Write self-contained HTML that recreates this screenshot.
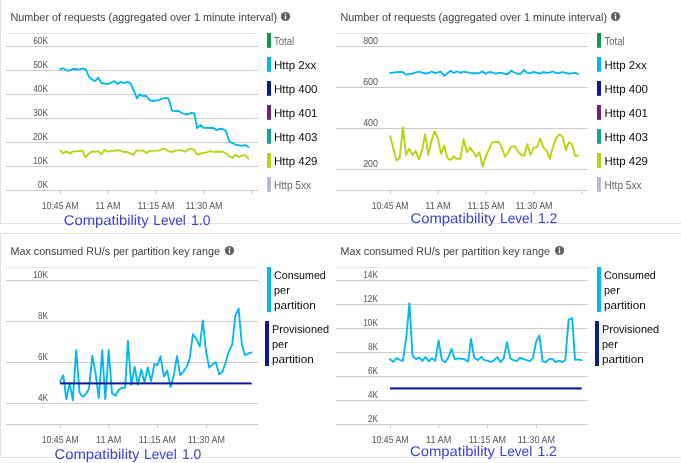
<!DOCTYPE html>
<html><head><meta charset="utf-8"><title>Charts</title>
<style>html,body{margin:0;padding:0;background:#fff;overflow:hidden}body{width:681px;height:463px;font-family:"Liberation Sans",sans-serif}</style></head>
<body>
<svg width="681" height="463" viewBox="0 0 681 463" style="display:block;will-change:transform;font-family:'Liberation Sans',sans-serif" shape-rendering="auto" text-rendering="geometricPrecision">
<rect width="681" height="463" fill="#ffffff"/>
<g fill="#e1e1e1">
<rect x="0" y="0" width="1" height="224"/>
<rect x="0" y="223" width="681" height="1"/>
<rect x="0" y="233" width="681" height="1"/>
<rect x="0" y="233" width="1" height="225"/>
<rect x="0" y="457" width="681" height="1"/>
</g>
<rect x="6" y="33" width="252" height="1" fill="#e6e6e6"/>
<rect x="6" y="46" width="252" height="1" fill="#cbcbcb"/>
<rect x="6" y="70" width="252" height="1" fill="#cbcbcb"/>
<rect x="6" y="94" width="252" height="1" fill="#cbcbcb"/>
<rect x="6" y="118" width="252" height="1" fill="#cbcbcb"/>
<rect x="6" y="142" width="252" height="1" fill="#cbcbcb"/>
<rect x="6" y="166" width="252" height="1" fill="#cbcbcb"/>
<rect x="6" y="190" width="252" height="1" fill="#cbcbcb"/>
<rect x="60.0" y="190" width="1" height="4" fill="#cbcbcb"/>
<rect x="107.5" y="190" width="1" height="4" fill="#cbcbcb"/>
<rect x="155.3" y="190" width="1" height="4" fill="#cbcbcb"/>
<rect x="203.2" y="190" width="1" height="4" fill="#cbcbcb"/>
<rect x="251.1" y="190" width="1" height="4" fill="#cbcbcb"/>
<text x="10.5" y="21" font-size="11.4" fill="#3d3d3d" textLength="266.5" lengthAdjust="spacingAndGlyphs">Number of requests (aggregated over 1 minute interval)</text>
<circle cx="285.5" cy="16.5" r="4.6" fill="#5c5c5c"/><rect x="284.8" y="15.6" width="1.4" height="3.8" fill="#fff"/><rect x="284.75" y="13.4" width="1.5" height="1.5" fill="#fff"/>
<text x="48" y="44" font-size="10.1" fill="#555555" text-anchor="end" textLength="14.8" lengthAdjust="spacingAndGlyphs">60K</text>
<text x="48" y="68" font-size="10.1" fill="#555555" text-anchor="end" textLength="14.8" lengthAdjust="spacingAndGlyphs">50K</text>
<text x="48" y="92" font-size="10.1" fill="#555555" text-anchor="end" textLength="14.8" lengthAdjust="spacingAndGlyphs">40K</text>
<text x="48" y="116" font-size="10.1" fill="#555555" text-anchor="end" textLength="14.8" lengthAdjust="spacingAndGlyphs">30K</text>
<text x="48" y="140" font-size="10.1" fill="#555555" text-anchor="end" textLength="14.8" lengthAdjust="spacingAndGlyphs">20K</text>
<text x="48" y="164" font-size="10.1" fill="#555555" text-anchor="end" textLength="14.8" lengthAdjust="spacingAndGlyphs">10K</text>
<text x="48" y="188" font-size="10.1" fill="#555555" text-anchor="end" textLength="10" lengthAdjust="spacingAndGlyphs">0K</text>
<text x="60.1" y="209" font-size="10.1" fill="#555555" text-anchor="middle" textLength="36.6" lengthAdjust="spacingAndGlyphs">10:45 AM</text>
<text x="107.9" y="209" font-size="10.1" fill="#555555" text-anchor="middle" textLength="25.2" lengthAdjust="spacingAndGlyphs">11 AM</text>
<text x="156" y="209" font-size="10.1" fill="#555555" text-anchor="middle" textLength="37.2" lengthAdjust="spacingAndGlyphs">11:15 AM</text>
<text x="204" y="209" font-size="10.1" fill="#555555" text-anchor="middle" textLength="37.2" lengthAdjust="spacingAndGlyphs">11:30 AM</text>
<rect x="336" y="33" width="252" height="1" fill="#e6e6e6"/>
<rect x="336" y="46" width="252" height="1" fill="#cbcbcb"/>
<rect x="336" y="87" width="252" height="1" fill="#cbcbcb"/>
<rect x="336" y="128" width="252" height="1" fill="#cbcbcb"/>
<rect x="336" y="169" width="252" height="1" fill="#cbcbcb"/>
<rect x="336" y="190" width="252" height="1" fill="#cbcbcb"/>
<rect x="390.0" y="190" width="1" height="4" fill="#cbcbcb"/>
<rect x="437.5" y="190" width="1" height="4" fill="#cbcbcb"/>
<rect x="485.3" y="190" width="1" height="4" fill="#cbcbcb"/>
<rect x="533.2" y="190" width="1" height="4" fill="#cbcbcb"/>
<rect x="581.1" y="190" width="1" height="4" fill="#cbcbcb"/>
<text x="340.5" y="21" font-size="11.4" fill="#3d3d3d" textLength="266.5" lengthAdjust="spacingAndGlyphs">Number of requests (aggregated over 1 minute interval)</text>
<circle cx="615.5" cy="16.5" r="4.6" fill="#5c5c5c"/><rect x="614.8" y="15.6" width="1.4" height="3.8" fill="#fff"/><rect x="614.75" y="13.4" width="1.5" height="1.5" fill="#fff"/>
<text x="378" y="44" font-size="10.1" fill="#555555" text-anchor="end" textLength="14.8" lengthAdjust="spacingAndGlyphs">800</text>
<text x="378" y="85" font-size="10.1" fill="#555555" text-anchor="end" textLength="14.8" lengthAdjust="spacingAndGlyphs">600</text>
<text x="378" y="126" font-size="10.1" fill="#555555" text-anchor="end" textLength="14.8" lengthAdjust="spacingAndGlyphs">400</text>
<text x="378" y="167" font-size="10.1" fill="#555555" text-anchor="end" textLength="14.8" lengthAdjust="spacingAndGlyphs">200</text>
<text x="390.1" y="209" font-size="10.1" fill="#555555" text-anchor="middle" textLength="36.6" lengthAdjust="spacingAndGlyphs">10:45 AM</text>
<text x="437.9" y="209" font-size="10.1" fill="#555555" text-anchor="middle" textLength="25.2" lengthAdjust="spacingAndGlyphs">11 AM</text>
<text x="486" y="209" font-size="10.1" fill="#555555" text-anchor="middle" textLength="37.2" lengthAdjust="spacingAndGlyphs">11:15 AM</text>
<text x="534" y="209" font-size="10.1" fill="#555555" text-anchor="middle" textLength="37.2" lengthAdjust="spacingAndGlyphs">11:30 AM</text>
<rect x="6" y="267" width="252" height="1" fill="#e6e6e6"/>
<rect x="6" y="280" width="252" height="1" fill="#cbcbcb"/>
<rect x="6" y="321" width="252" height="1" fill="#cbcbcb"/>
<rect x="6" y="362" width="252" height="1" fill="#cbcbcb"/>
<rect x="6" y="403" width="252" height="1" fill="#cbcbcb"/>
<rect x="6" y="424" width="252" height="1" fill="#cbcbcb"/>
<rect x="60.0" y="424" width="1" height="4" fill="#cbcbcb"/>
<rect x="108.2" y="424" width="1" height="4" fill="#cbcbcb"/>
<rect x="156.9" y="424" width="1" height="4" fill="#cbcbcb"/>
<rect x="205.8" y="424" width="1" height="4" fill="#cbcbcb"/>
<text x="10.5" y="255" font-size="11.4" fill="#3d3d3d" textLength="209.5" lengthAdjust="spacingAndGlyphs">Max consumed RU/s per partition key range</text>
<circle cx="229.5" cy="250.5" r="4.6" fill="#5c5c5c"/><rect x="228.8" y="249.6" width="1.4" height="3.8" fill="#fff"/><rect x="228.75" y="247.4" width="1.5" height="1.5" fill="#fff"/>
<text x="48" y="278" font-size="10.1" fill="#555555" text-anchor="end" textLength="14.8" lengthAdjust="spacingAndGlyphs">10K</text>
<text x="48" y="319" font-size="10.1" fill="#555555" text-anchor="end" textLength="10" lengthAdjust="spacingAndGlyphs">8K</text>
<text x="48" y="360" font-size="10.1" fill="#555555" text-anchor="end" textLength="10" lengthAdjust="spacingAndGlyphs">6K</text>
<text x="48" y="401" font-size="10.1" fill="#555555" text-anchor="end" textLength="10" lengthAdjust="spacingAndGlyphs">4K</text>
<text x="60.1" y="443" font-size="10.1" fill="#555555" text-anchor="middle" textLength="36.6" lengthAdjust="spacingAndGlyphs">10:45 AM</text>
<text x="108.7" y="443" font-size="10.1" fill="#555555" text-anchor="middle" textLength="25.2" lengthAdjust="spacingAndGlyphs">11 AM</text>
<text x="157.4" y="443" font-size="10.1" fill="#555555" text-anchor="middle" textLength="37.2" lengthAdjust="spacingAndGlyphs">11:15 AM</text>
<text x="206.4" y="443" font-size="10.1" fill="#555555" text-anchor="middle" textLength="37.2" lengthAdjust="spacingAndGlyphs">11:30 AM</text>
<rect x="336" y="267" width="252" height="1" fill="#e6e6e6"/>
<rect x="336" y="280" width="252" height="1" fill="#cbcbcb"/>
<rect x="336" y="304" width="252" height="1" fill="#cbcbcb"/>
<rect x="336" y="328" width="252" height="1" fill="#cbcbcb"/>
<rect x="336" y="352" width="252" height="1" fill="#cbcbcb"/>
<rect x="336" y="376" width="252" height="1" fill="#cbcbcb"/>
<rect x="336" y="400" width="252" height="1" fill="#cbcbcb"/>
<rect x="336" y="424" width="252" height="1" fill="#cbcbcb"/>
<rect x="390.0" y="424" width="1" height="4" fill="#cbcbcb"/>
<rect x="438.2" y="424" width="1" height="4" fill="#cbcbcb"/>
<rect x="486.9" y="424" width="1" height="4" fill="#cbcbcb"/>
<rect x="535.8" y="424" width="1" height="4" fill="#cbcbcb"/>
<text x="340.5" y="255" font-size="11.4" fill="#3d3d3d" textLength="209.5" lengthAdjust="spacingAndGlyphs">Max consumed RU/s per partition key range</text>
<circle cx="559.5" cy="250.5" r="4.6" fill="#5c5c5c"/><rect x="558.8" y="249.6" width="1.4" height="3.8" fill="#fff"/><rect x="558.75" y="247.4" width="1.5" height="1.5" fill="#fff"/>
<text x="378" y="278" font-size="10.1" fill="#555555" text-anchor="end" textLength="14.8" lengthAdjust="spacingAndGlyphs">14K</text>
<text x="378" y="302" font-size="10.1" fill="#555555" text-anchor="end" textLength="14.8" lengthAdjust="spacingAndGlyphs">12K</text>
<text x="378" y="326" font-size="10.1" fill="#555555" text-anchor="end" textLength="14.8" lengthAdjust="spacingAndGlyphs">10K</text>
<text x="378" y="350" font-size="10.1" fill="#555555" text-anchor="end" textLength="10" lengthAdjust="spacingAndGlyphs">8K</text>
<text x="378" y="374" font-size="10.1" fill="#555555" text-anchor="end" textLength="10" lengthAdjust="spacingAndGlyphs">6K</text>
<text x="378" y="398" font-size="10.1" fill="#555555" text-anchor="end" textLength="10" lengthAdjust="spacingAndGlyphs">4K</text>
<text x="378" y="422" font-size="10.1" fill="#555555" text-anchor="end" textLength="10" lengthAdjust="spacingAndGlyphs">2K</text>
<text x="390.1" y="443" font-size="10.1" fill="#555555" text-anchor="middle" textLength="36.6" lengthAdjust="spacingAndGlyphs">10:45 AM</text>
<text x="438.7" y="443" font-size="10.1" fill="#555555" text-anchor="middle" textLength="25.2" lengthAdjust="spacingAndGlyphs">11 AM</text>
<text x="487.4" y="443" font-size="10.1" fill="#555555" text-anchor="middle" textLength="37.2" lengthAdjust="spacingAndGlyphs">11:15 AM</text>
<text x="536.4" y="443" font-size="10.1" fill="#555555" text-anchor="middle" textLength="37.2" lengthAdjust="spacingAndGlyphs">11:30 AM</text>
<polyline points="60.1,150.4 63.2,153.3 66.3,151.4 69.9,153.5 73.0,151.4 76.1,151.4 79.2,150.9 82.4,150.6 85.5,157.1 88.6,154.0 91.7,151.4 95.1,151.8 98.2,151.2 101.5,154.2 104.5,149.9 107.9,151.8 111.0,150.9 114.1,150.9 117.4,150.1 120.8,150.7 123.8,152.0 127.2,152.0 130.3,153.3 133.4,155.0 136.4,150.7 143.1,150.6 146.4,153.0 149.8,150.9 159.1,150.6 162.7,148.9 165.2,148.9 168.8,151.4 171.9,152.0 175.0,150.6 181.7,150.2 184.5,151.8 190.0,148.7 193.9,149.7 197.4,154.7 203.0,152.8 206.9,152.4 210.1,151.2 213.3,151.8 216.6,151.5 223.1,151.8 232.4,158.0 235.4,154.7 238.6,157.0 241.9,155.6 245.1,155.1 248.4,158.6" fill="none" stroke="#b4d40c" stroke-width="1.85" stroke-linejoin="round" stroke-linecap="round"/>
<polyline points="60.0,69.1 63.0,68.3 67.0,70.7 69.4,70.6 72.7,69.0 76.0,68.8 79.2,69.6 82.4,68.5 85.6,69.1 88.9,76.7 92.1,79.5 95.0,81.1 98.3,77.7 101.5,83.0 107.5,84.2 111.6,82.4 114.5,81.1 117.7,84.0 120.7,81.9 123.7,83.0 127.5,81.9 130.5,83.4 133.8,90.5 136.9,98.3 139.6,94.4 143.2,96.2 146.4,96.0 149.7,100.2 152.4,101.0 158.9,100.2 162.2,98.6 165.7,97.8 168.6,98.6 171.9,110.6 175.1,111.2 178.4,110.9 181.6,112.8 184.8,114.0 188.1,114.3 191.3,112.8 194.3,113.4 197.2,128.2 200.5,125.0 203.7,127.8 213.3,128.0 216.6,130.1 219.8,128.8 223.1,129.2 226.0,131.0 229.3,141.5 235.4,144.6 241.9,145.9 245.1,145.0 248.4,147.0" fill="none" stroke="#00b7f1" stroke-width="1.85" stroke-linejoin="round" stroke-linecap="round"/>
<polyline points="390.1,136.2 393.1,147.6 396.3,160.4 399.7,157.9 402.9,127.3 406.0,155.2 409.2,148.6 412.5,155.2 415.5,150.8 418.8,159.4 422.0,150.8 425.1,134.2 428.3,154.9 431.5,140.6 434.6,131.5 437.9,138.4 441.1,153.8 444.2,145.7 447.4,158.2 450.6,159.9 453.7,156.4 457.0,158.9 460.3,158.9 463.6,139.5 466.8,152.3 469.9,147.6 473.1,151.6 476.3,156.7 479.4,152.3 482.6,166.3 485.9,156.0 489.1,149.4 492.2,142.3 495.4,142.0 498.6,141.7 501.7,147.2 505.0,156.7 507.9,153.0 511.1,146.7 514.5,146.1 517.7,150.8 520.8,154.5 524.1,156.0 527.3,144.2 530.4,154.9 533.9,147.6 537.0,147.2 540.2,138.4 543.4,147.6 546.5,150.1 549.8,158.9 553.0,146.4 556.1,138.4 559.3,134.2 562.7,136.9 565.9,150.1 568.8,142.3 572.1,144.2 575.2,156.0 577.9,155.5" fill="none" stroke="#b4d40c" stroke-width="1.85" stroke-linejoin="round" stroke-linecap="round"/>
<polyline points="390.1,73.2 396.7,72.2 402.6,72.0 406.0,74.7 412.2,73.7 418.8,71.7 425.4,73.5 428.3,73.2 431.5,71.5 434.9,73.2 440.8,71.7 444.2,75.7 450.6,70.7 453.7,72.9 457.0,71.5 460.6,72.8 463.6,71.7 471.6,73.2 479.0,73.2 482.4,71.4 485.9,73.7 489.5,72.0 492.5,72.5 495.7,73.7 499.1,72.8 502.0,72.9 505.0,74.0 507.9,74.0 511.1,70.6 514.5,72.5 517.4,73.7 520.7,73.7 524.1,70.0 527.0,72.9 529.9,73.2 533.6,72.0 540.2,73.7 543.1,72.0 546.5,72.9 549.8,72.5 552.7,71.5 556.4,73.2 559.3,72.9 562.5,72.2 568.8,73.7 575.4,72.8 577.9,74.0" fill="none" stroke="#00b7f1" stroke-width="1.85" stroke-linejoin="round" stroke-linecap="round"/>
<polyline points="60.0,381.9 63.3,375.1 66.3,399.3 69.7,383.1 72.8,400.3 76.2,350.1 79.5,392.5 82.7,396.7 86.0,394.0 89.0,388.7 92.3,355.9 95.5,372.8 98.8,398.2 102.2,350.1 105.3,399.3 108.7,350.1 112.0,393.2 115.5,395.8 118.5,390.2 121.5,387.9 125.2,387.8 127.9,341.0 131.3,384.9 134.7,366.8 137.8,384.9 141.2,369.5 144.5,382.6 147.7,367.5 151.0,381.1 154.5,363.7 157.3,365.2 160.5,356.2 163.8,376.6 167.2,370.5 170.6,387.2 173.7,375.8 177.0,356.2 180.2,375.1 183.5,371.3 186.8,366.8 189.7,358.5 192.9,334.3 196.5,339.0 199.8,346.6 202.8,320.4 206.0,351.0 209.2,367.6 212.7,364.5 215.7,362.1 219.2,374.2 222.5,371.7 225.6,362.5 228.6,352.3 232.3,344.1 235.3,315.8 238.6,308.6 241.9,344.8 245.0,355.3 248.1,353.7 251.6,352.3" fill="none" stroke="#00b7f1" stroke-width="1.85" stroke-linejoin="round" stroke-linecap="round"/>
<rect x="60" y="382.4" width="191.7" height="2" fill="#0a1a96"/>
<polyline points="390.0,359.1 393.2,362.0 396.4,358.1 399.7,359.8 402.9,360.9 406.2,338.2 409.4,303.2 412.6,356.1 415.9,359.1 419.1,357.6 422.4,360.9 425.4,357.0 428.8,361.3 432.1,358.3 435.3,360.9 438.6,340.4 441.8,359.8 445.0,362.4 448.3,357.6 451.5,349.0 454.8,359.1 458.4,358.3 464.5,359.4 468.2,361.5 471.0,338.8 474.2,357.6 477.9,360.2 481.3,356.8 484.3,360.2 487.6,360.7 490.8,362.0 494.0,360.4 497.3,357.2 500.5,362.0 503.8,358.3 507.0,342.1 510.2,358.1 513.5,360.2 516.7,361.1 520.0,357.6 523.2,359.1 526.4,360.2 529.7,361.1 532.9,358.1 536.2,341.4 539.4,335.4 542.6,361.3 545.9,362.2 549.1,358.9 552.4,358.9 555.6,362.2 558.8,360.7 562.1,362.0 565.3,360.2 568.6,319.8 572.2,318.1 575.0,359.8 578.3,359.4 581.5,360.2" fill="none" stroke="#00b7f1" stroke-width="1.85" stroke-linejoin="round" stroke-linecap="round"/>
<rect x="390" y="387.4" width="191.7" height="2.1" fill="#0a1a96"/>
<rect x="267" y="33" width="4" height="14.8" fill="#119a49"/>
<text x="274" y="44.5" font-size="11.5" fill="#6a6a6a" textLength="20" lengthAdjust="spacingAndGlyphs">Total</text>
<rect x="267" y="57" width="4" height="14.8" fill="#00b7f1"/>
<text x="274" y="68.5" font-size="11.5" fill="#0a0a0a">Http 2xx</text>
<rect x="267" y="81" width="4" height="14.8" fill="#0a1a8c"/>
<text x="274" y="92.5" font-size="11.5" fill="#0a0a0a">Http 400</text>
<rect x="267" y="105" width="4" height="14.8" fill="#6b2277"/>
<text x="274" y="116.5" font-size="11.5" fill="#0a0a0a">Http 401</text>
<rect x="267" y="129" width="4" height="14.8" fill="#16a594"/>
<text x="274" y="140.5" font-size="11.5" fill="#0a0a0a">Http 403</text>
<rect x="267" y="153" width="4" height="14.8" fill="#b4d40c"/>
<text x="274" y="164.5" font-size="11.5" fill="#0a0a0a">Http 429</text>
<rect x="267" y="177" width="4" height="14.8" fill="#b4bcc8"/>
<text x="274" y="188.5" font-size="11.5" fill="#6a6a6a" textLength="37" lengthAdjust="spacingAndGlyphs">Http 5xx</text>
<rect x="597" y="33" width="4" height="14.8" fill="#119a49"/>
<text x="604.5" y="44.5" font-size="11.5" fill="#6a6a6a" textLength="20" lengthAdjust="spacingAndGlyphs">Total</text>
<rect x="597" y="57" width="4" height="14.8" fill="#00b7f1"/>
<text x="604.5" y="68.5" font-size="11.5" fill="#0a0a0a">Http 2xx</text>
<rect x="597" y="81" width="4" height="14.8" fill="#0a1a8c"/>
<text x="604.5" y="92.5" font-size="11.5" fill="#0a0a0a">Http 400</text>
<rect x="597" y="105" width="4" height="14.8" fill="#6b2277"/>
<text x="604.5" y="116.5" font-size="11.5" fill="#0a0a0a">Http 401</text>
<rect x="597" y="129" width="4" height="14.8" fill="#16a594"/>
<text x="604.5" y="140.5" font-size="11.5" fill="#0a0a0a">Http 403</text>
<rect x="597" y="153" width="4" height="14.8" fill="#b4d40c"/>
<text x="604.5" y="164.5" font-size="11.5" fill="#0a0a0a">Http 429</text>
<rect x="597" y="177" width="4" height="14.8" fill="#b4bcc8"/>
<text x="604.5" y="188.5" font-size="11.5" fill="#6a6a6a" textLength="37" lengthAdjust="spacingAndGlyphs">Http 5xx</text>
<rect x="267" y="267" width="4" height="45" fill="#00b7f1"/>
<text x="274" y="279" font-size="11.2" fill="#0a0a0a" textLength="51.8" lengthAdjust="spacingAndGlyphs">Consumed</text>
<text x="274" y="294" font-size="11.2" fill="#0a0a0a" textLength="15.8" lengthAdjust="spacingAndGlyphs">per</text>
<text x="274" y="309" font-size="11.2" fill="#0a0a0a" textLength="41.8" lengthAdjust="spacingAndGlyphs">partition</text>
<rect x="265" y="321" width="4" height="45" fill="#0a1a8c"/>
<text x="272" y="333" font-size="11.2" fill="#0a0a0a" textLength="57.2" lengthAdjust="spacingAndGlyphs">Provisioned</text>
<text x="272" y="348" font-size="11.2" fill="#0a0a0a" textLength="15.8" lengthAdjust="spacingAndGlyphs">per</text>
<text x="272" y="363" font-size="11.2" fill="#0a0a0a" textLength="41.8" lengthAdjust="spacingAndGlyphs">partition</text>
<rect x="597" y="267" width="4" height="45" fill="#00b7f1"/>
<text x="604" y="279" font-size="11.2" fill="#0a0a0a" textLength="51.8" lengthAdjust="spacingAndGlyphs">Consumed</text>
<text x="604" y="294" font-size="11.2" fill="#0a0a0a" textLength="15.8" lengthAdjust="spacingAndGlyphs">per</text>
<text x="604" y="309" font-size="11.2" fill="#0a0a0a" textLength="41.8" lengthAdjust="spacingAndGlyphs">partition</text>
<rect x="595" y="321" width="4" height="45" fill="#0a1a8c"/>
<text x="602" y="333" font-size="11.2" fill="#0a0a0a" textLength="57.2" lengthAdjust="spacingAndGlyphs">Provisioned</text>
<text x="602" y="348" font-size="11.2" fill="#0a0a0a" textLength="15.8" lengthAdjust="spacingAndGlyphs">per</text>
<text x="602" y="363" font-size="11.2" fill="#0a0a0a" textLength="41.8" lengthAdjust="spacingAndGlyphs">partition</text>
<text x="63.7" y="224.7" font-size="14.1" fill="#3a3fd6" textLength="85" lengthAdjust="spacingAndGlyphs">Compatibility</text>
<text x="153.3" y="224.7" font-size="14.1" fill="#3a3fd6" textLength="32.6" lengthAdjust="spacingAndGlyphs">Level</text>
<text x="191.1" y="224.7" font-size="14.1" fill="#3a3fd6" textLength="19.4" lengthAdjust="spacingAndGlyphs">1.0</text>
<text x="410.5" y="222.7" font-size="14.1" fill="#3a3fd6" textLength="85" lengthAdjust="spacingAndGlyphs">Compatibility</text>
<text x="500.1" y="222.7" font-size="14.1" fill="#3a3fd6" textLength="32.6" lengthAdjust="spacingAndGlyphs">Level</text>
<text x="537.9" y="222.7" font-size="14.1" fill="#3a3fd6" textLength="19.4" lengthAdjust="spacingAndGlyphs">1.2</text>
<text x="54.5" y="459" font-size="14.1" fill="#3a3fd6" textLength="85" lengthAdjust="spacingAndGlyphs">Compatibility</text>
<text x="144.1" y="459" font-size="14.1" fill="#3a3fd6" textLength="32.6" lengthAdjust="spacingAndGlyphs">Level</text>
<text x="181.9" y="459" font-size="14.1" fill="#3a3fd6" textLength="19.4" lengthAdjust="spacingAndGlyphs">1.0</text>
<text x="410.0" y="456.2" font-size="14.1" fill="#3a3fd6" textLength="85" lengthAdjust="spacingAndGlyphs">Compatibility</text>
<text x="499.6" y="456.2" font-size="14.1" fill="#3a3fd6" textLength="32.6" lengthAdjust="spacingAndGlyphs">Level</text>
<text x="537.4" y="456.2" font-size="14.1" fill="#3a3fd6" textLength="19.4" lengthAdjust="spacingAndGlyphs">1.2</text>
</svg>
</body></html>
